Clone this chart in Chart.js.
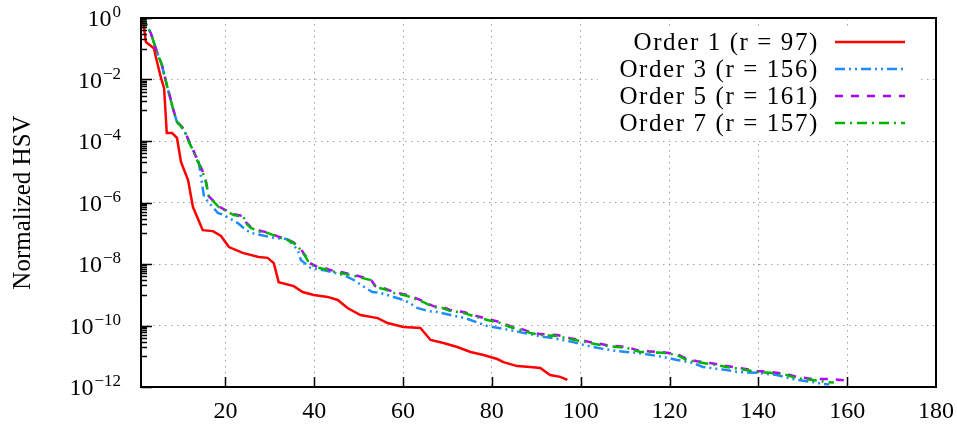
<!DOCTYPE html>
<html>
<head>
<meta charset="utf-8">
<script src="https://cdn.jsdelivr.net/npm/chart.js@4/dist/chart.umd.min.js"></script>
<style>
  html, body { margin: 0; padding: 0; background: #fff; }
  #wrap { width: 957px; height: 432px; position: relative; }
</style>
</head>
<body>
<div id="wrap"><canvas id="chart"></canvas></div>
<script>
// values: x = index, e = log10 of normalized HSV
const ORDER1_X = [1,1.5,2.1,3.9,4.4,5.5,6.2,6.8,8,9.1,10,11.6,12.7,14.9,17.2,19,20.8,23.9,27.5,29.5,30.9,32,35.4,37.4,39.9,43,45.3,47.5,50.4,54.3,56.5,60.1,63.9,66.2,69.1,72.2,75.2,78.1,81.2,82.6,85.7,88.6,90.9,93.1,95.4,97]
const ORDER1_E = [0,-0.1,-0.78,-0.98,-1.3,-1.95,-2.28,-3.74,-3.74,-3.9,-4.68,-5.27,-6.15,-6.9,-6.93,-7.09,-7.45,-7.64,-7.77,-7.8,-7.97,-8.59,-8.72,-8.91,-9.01,-9.07,-9.17,-9.43,-9.66,-9.76,-9.92,-10.05,-10.08,-10.47,-10.57,-10.7,-10.86,-10.96,-11.09,-11.19,-11.32,-11.35,-11.38,-11.61,-11.67,-11.77]

const ORDER3_X = [1,1.7,3.2,4.6,5.7,6.8,7.7,8.4,9.1,10.7,11.8,12.9,14,15.2,18.3,19.7,22.8,24.1,25.7,30.9,34,36.3,37,39.2,42.1,46.6,48.9,51.6,53.1,54.9,59.4,61.2,63.2,65.7,67.7,70.7,74,79,84.1,87.1,91.6,93.8,98.3,100.6,105,108.2,112.7,118.5,121.7,125.3,127.5,132.9,135.2,139.7,144.1,147.7,152.2,154.5,156]
const ORDER3_E = [0,-0.07,-0.49,-1.11,-1.53,-2.18,-2.67,-3.06,-3.38,-3.64,-4.03,-4.36,-4.68,-5.82,-6.34,-6.41,-6.67,-6.83,-6.99,-7.15,-7.19,-7.54,-7.87,-8.13,-8.2,-8.36,-8.52,-8.78,-8.91,-8.94,-9.14,-9.24,-9.43,-9.53,-9.56,-9.66,-9.76,-10.02,-10.15,-10.24,-10.37,-10.41,-10.54,-10.63,-10.76,-10.83,-10.89,-11.02,-11.12,-11.22,-11.35,-11.45,-11.51,-11.54,-11.61,-11.74,-11.84,-11.9,-11.92]

const ORDER5_X = [1,1.7,3.2,4.6,5.7,6.8,7.7,8.4,9.1,10.7,11.8,12.9,13.6,14.7,15.6,16.3,17.4,18.5,19.7,21.9,24.1,24.6,25.7,28,29.5,31.8,34,35.4,37,38.1,38.8,40.3,42.1,43.7,45.9,48.2,50.9,52.7,53.8,55.6,57.9,61,62.3,64.6,66.8,68.9,70.7,73.6,75.8,79,81.9,84.1,86.8,88.6,90.9,94.7,97.6,99.9,102.1,106,110.4,113.4,114.9,118.5,121.7,123.9,126.2,129.1,132.9,135.8,139.7,142.6,146.4,148.6,152.2,156,161]
const ORDER5_E = [0,-0.07,-0.49,-1.1,-1.52,-2.17,-2.65,-3.04,-3.36,-3.62,-4.0,-4.33,-4.6,-4.92,-5.3,-5.8,-5.96,-6.13,-6.22,-6.38,-6.44,-6.64,-6.8,-6.93,-6.97,-7.1,-7.2,-7.3,-7.52,-7.75,-7.95,-8.07,-8.12,-8.2,-8.26,-8.33,-8.43,-8.5,-8.72,-8.78,-8.91,-9.01,-9.08,-9.21,-9.37,-9.4,-9.5,-9.56,-9.66,-9.79,-9.89,-10.02,-10.12,-10.21,-10.28,-10.31,-10.41,-10.47,-10.54,-10.64,-10.7,-10.83,-10.84,-10.87,-10.93,-11.09,-11.16,-11.22,-11.32,-11.38,-11.48,-11.51,-11.58,-11.67,-11.74,-11.74,-11.8]

const ORDER7_X = [1,1.7,3.2,4.6,5.7,6.8,7.7,8.4,9.1,10.7,11.8,12.9,13.6,14.7,15.6,16.3,17.4,18.5,19.7,21.9,24.1,24.6,25.7,28,29.5,31.8,34,35.4,37,38.1,38.8,40.3,42.1,43.7,45.9,48.2,50.9,52.7,53.8,55.6,57.9,61,62.3,64.6,66.8,68.9,70.7,73.6,75.8,79,81.9,84.1,86.8,88.6,90.9,94.7,97.6,99.9,102.1,106,110.4,113.4,114.9,118.5,121.7,123.9,126.2,129.1,132.9,135.8,139.7,142.6,146.4,148.6,152.2,155.4,157]
const ORDER7_E = [0,-0.07,-0.49,-1.11,-1.53,-2.18,-2.67,-3.06,-3.38,-3.64,-4.03,-4.36,-4.62,-4.94,-5.33,-5.82,-5.98,-6.15,-6.24,-6.41,-6.47,-6.67,-6.83,-6.96,-6.99,-7.12,-7.22,-7.32,-7.54,-7.77,-7.97,-8.1,-8.16,-8.23,-8.29,-8.36,-8.46,-8.52,-8.75,-8.81,-8.94,-9.04,-9.11,-9.24,-9.4,-9.43,-9.53,-9.59,-9.69,-9.82,-9.92,-10.05,-10.15,-10.24,-10.31,-10.34,-10.44,-10.5,-10.57,-10.67,-10.73,-10.86,-10.86,-10.89,-10.96,-11.12,-11.19,-11.25,-11.35,-11.41,-11.51,-11.54,-11.61,-11.71,-11.77,-11.84,-11.85]

const LABELS = ["Order 1 (r = 97)", "Order 3 (r = 156)", "Order 5 (r = 161)", "Order 7 (r = 157)"]
const X_TICKS = [20, 40, 60, 80, 100, 120, 140, 160, 180]
const Y_TICKS = [1, 1e-2, 1e-4, 1e-6, 1e-8, 1e-10, 1e-12]

const SERIF = "'Liberation Serif', 'Times New Roman', serif"

function toPoints(xs, es) {
  return xs.map((x, i) => ({ x: x, y: Math.pow(10, es[i]) }))
}

const styles = [
  { color: "#ff0000", dash: [] },
  { color: "#1e8cff", dash: [10, 4, 2, 4, 2, 4] },
  { color: "#b400ff", dash: [8, 8] },
  { color: "#00b400", dash: [10, 5, 2, 5] }
]

const series = [
  toPoints(ORDER1_X, ORDER1_E),
  toPoints(ORDER3_X, ORDER3_E),
  toPoints(ORDER5_X, ORDER5_E),
  toPoints(ORDER7_X, ORDER7_E)
]

const datasets = series.map((pts, i) => ({
  label: LABELS[i],
  data: pts,
  borderColor: styles[i].color,
  borderDash: styles[i].dash,
  borderWidth: 2.5,
  pointRadius: 0,
  fill: false,
  tension: 0,
  order: 4 - i
}))

// frame, inner ticks, y labels with exponents, legend
const decorPlugin = {
  id: "decor",
  afterDatasetsDraw(chart) {
    const ctx = chart.ctx
    const a = chart.chartArea
    const xs = chart.scales.x
    const ys = chart.scales.y
    ctx.save()
    ctx.strokeStyle = "#000"
    ctx.lineWidth = 2
    ctx.strokeRect(a.left, a.top, a.right - a.left, a.bottom - a.top)

    ctx.lineWidth = 1.5
    ctx.beginPath()
    X_TICKS.forEach(v => {
      if (v >= 180) return
      const px = Math.round(xs.getPixelForValue(v)) + 0.5
      ctx.moveTo(px, a.bottom)
      ctx.lineTo(px, a.bottom - 10)
    })
    // major ticks every two decades, minor ticks m*10^(k-1)
    Y_TICKS.forEach(v => {
      const py = Math.round(ys.getPixelForValue(v)) + 0.5
      ctx.moveTo(a.left, py)
      ctx.lineTo(a.left + 11, py)
      if (v <= 1e-12) return
      for (let m = 1; m <= 9; m++) {
        const my = Math.round(ys.getPixelForValue(m * v / 10)) + 0.5
        ctx.moveTo(a.left, my)
        ctx.lineTo(a.left + 6, my)
      }
    })
    ctx.stroke()

    // y tick labels
    ctx.fillStyle = "#000"
    ctx.textAlign = "right"
    ctx.textBaseline = "alphabetic"
    const right = a.left - 20
    Y_TICKS.forEach(v => {
      const py = ys.getPixelForValue(v)
      const e = Math.round(Math.log10(v))
      const sup = e === 0 ? "0" : "\u2212" + Math.abs(e)
      ctx.font = "17px " + SERIF
      const w = ctx.measureText(sup).width
      ctx.fillText(sup, right, py - 1)
      ctx.font = "24px " + SERIF
      ctx.fillText("10", right - w - 1, py + 8)
    })

    // legend
    ctx.fillStyle = "#fff"
    ctx.fillRect(598, 27, 320, 112)
    const rows = [42, 69, 96, 123]
    ctx.font = "25px " + SERIF
    ctx.textBaseline = "middle"
    ctx.letterSpacing = "1.6px"
    rows.forEach((ry, i) => {
      ctx.fillStyle = "#000"
      ctx.fillText(LABELS[i], 819, ry + 1)
      ctx.strokeStyle = styles[i].color
      ctx.lineWidth = 2.5
      ctx.setLineDash(styles[i].dash)
      ctx.beginPath()
      ctx.moveTo(835, ry)
      ctx.lineTo(905, ry)
      ctx.stroke()
      ctx.setLineDash([])
    })
    ctx.restore()
  }
}

new Chart(document.getElementById("chart"), {
  type: "line",
  data: { datasets: datasets },
  plugins: [decorPlugin],
  options: {
    responsive: true,
    maintainAspectRatio: false,
    animation: false,
    layout: { padding: { top: 18, right: 21, left: 0, bottom: 0 } },
    plugins: {
      legend: { display: false },
      tooltip: { enabled: false }
    },
    scales: {
      x: {
        type: "linear",
        min: 1,
        max: 180,
        afterBuildTicks: scale => { scale.ticks = X_TICKS.map(v => ({ value: v })) },
        afterFit: scale => {
          scale.height = 45
          scale.paddingLeft = 0
          scale.paddingRight = 0
        },
        grid: { color: "#a0a0a0", lineWidth: 1, drawTicks: false },
        border: { display: false, dash: [1.5, 4.5] },
        ticks: {
          color: "#000",
          padding: 10,
          maxRotation: 0,
          font: { family: SERIF, size: 24 }
        }
      },
      y: {
        type: "logarithmic",
        min: 1e-12,
        max: 1,
        afterBuildTicks: scale => { scale.ticks = Y_TICKS.map(v => ({ value: v })) },
        afterFit: scale => {
          scale.width = 141
          scale.paddingTop = 0
          scale.paddingBottom = 0
        },
        grid: { color: "#a0a0a0", lineWidth: 1, drawTicks: false },
        border: { display: false, dash: [1.5, 4.5] },
        ticks: { display: false },
        title: {
          display: true,
          text: "Normalized HSV",
          color: "#000",
          padding: { top: 8, bottom: 0 },
          font: { family: SERIF, size: 25 }
        }
      }
    }
  }
})
</script>
</body>
</html>
